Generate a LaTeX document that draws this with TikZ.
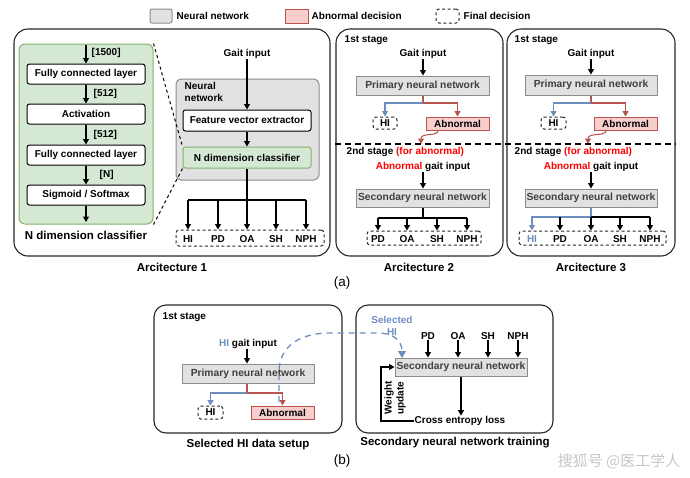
\documentclass[tikz,border=0pt]{standalone}
\usepackage{fontspec}
\setmainfont{Liberation Sans}
\newfontfamily\wmcjk{Noto Sans CJK SC}
\usetikzlibrary{arrows.meta}
\definecolor{nnfill}{HTML}{E1E1E1}
\definecolor{nnborder}{HTML}{8C8C8C}
\definecolor{gfill}{HTML}{D5E8D4}
\definecolor{gborder}{HTML}{82B366}
\definecolor{afill}{HTML}{F8CECC}
\definecolor{aborder}{HTML}{B85450}
\definecolor{hiblue}{HTML}{6C8EBF}
\definecolor{txtred}{HTML}{FF0000}
\newcommand\mycapfont{\fontsize{11.5}{13}\selectfont\bfseries}
\newcommand\mynnfont{\fontsize{10.3}{12}\selectfont\bfseries}
\begin{document}
\begin{tikzpicture}[x=1pt,y=-1pt,
  font=\fontsize{10}{12}\selectfont\bfseries,
  every node/.style={inner sep=0.5pt},
  wh/.style 2 args={minimum width=#1pt, minimum height=#2pt},
  arr/.style={-{Triangle[length=5.5pt,width=6pt]}, line width=1.05pt},
  plainline/.style={line width=1.05pt},
  redarr/.style={arr, draw=aborder},
  redline/.style={plainline, draw=aborder},
  bluearr/.style={arr, draw=hiblue},
  blueline/.style={plainline, draw=hiblue},
  nnbox/.style={draw=nnborder, fill=nnfill, line width=1pt, inner sep=0pt, text=black!75, font=\mynnfont},
  wbox/.style={draw=black, fill=white, rounded corners=2.5pt, line width=1pt, inner sep=0pt},
  gbox/.style={draw=gborder, fill=gfill, rounded corners=2.5pt, line width=1pt, inner sep=0pt},
  abox/.style={draw=aborder, fill=afill, line width=1pt, inner sep=0pt},
  fbox/.style={draw=black!85, dash pattern=on 3pt off 2.5pt, rounded corners=3pt, line width=1pt, inner sep=0pt},
  panel/.style={draw=black!85, rounded corners=14pt, line width=1.1pt, inner sep=0pt},
  zoomline/.style={draw=black, dash pattern=on 3pt off 3pt, line width=1pt},
  sepline/.style={draw=black, dash pattern=on 6pt off 4pt, line width=1.4pt},
  selline/.style={draw=hiblue, dash pattern=on 6pt off 5pt, line width=1.3pt, -{Triangle[length=7pt,width=8pt]}},
  captxt/.style={font=\mycapfont}
]
\useasboundingbox (0,0) rectangle (690,477);

% ---------------- legend
\node[nnbox, rounded corners=2pt, wh={22}{14}] (lg1) at (161,16) {};
\node[anchor=west] (lg1t) at (176,16) {Neural network};
\node[abox, wh={23}{14}] (lg2) at (296.5,16) {};
\node[anchor=west] (lg2t) at (311,16) {Abnormal decision};
\node[fbox, wh={23}{14}] (lg3) at (447.5,16) {};
\node[anchor=west] (lg3t) at (463,16) {Final decision};

% ---------------- Architecture 1
\node[panel, wh={316}{227}] (p1) at (172,142.5) {};
\node[gbox, rounded corners=6pt, wh={134}{180}] (gz) at (86,134) {};
\node[wbox, wh={118}{20}] (fc1) at (86,74) {Fully connected layer};
\node[wbox, wh={118}{20}] (act) at (86,114) {Activation};
\node[wbox, wh={118}{20}] (fc2) at (86,155) {Fully connected layer};
\node[wbox, wh={118}{20}] (sig) at (86,195) {Sigmoid / Softmax};
\coordinate (gin) at (86,45);
\coordinate (gout) at (86,222);
\draw[arr] (gin) -- (fc1);
\draw[arr] (fc1) -- (act);
\draw[arr] (act) -- (fc2);
\draw[arr] (fc2) -- (sig);
\draw[arr] (sig) -- (gout);
\node[anchor=west] (d1500) at (91,53) {[1500]};
\node[anchor=west] (d512a) at (93,94) {[512]};
\node[anchor=west] (d512b) at (93,135) {[512]};
\node[anchor=west] (dN) at (99,175) {[N]};
\node[captxt] (ndclbl) at (86,235) {N dimension classifier};

\node[nnbox, rounded corners=5pt, wh={143}{101}] (nn) at (247.5,129.5) {};
\node[anchor=north west, align=left] (nnl) at (184,82) {Neural\\network};
\node (gi1) at (247,54) {Gait input};
\node[wbox, wh={128}{21}] (fe) at (247,120.5) {Feature vector extractor};
\node[gbox, wh={128}{21}] (ndc) at (247,157.5) {N dimension classifier};
\draw[arr] (gi1) -- (gi1 |- fe.north);
\draw[arr] (fe) -- (ndc);
\draw[zoomline] (gz.north east) -- (ndc.north west);
\draw[zoomline] (gz.south east) -- (ndc.south west);

\coordinate (bus1) at (247,200);
\node[fbox, wh={148}{16}] (fin1) at (250,238) {};
\node (a1hi) at (188,239) {HI};
\node (a1pd) at (218,239) {PD};
\node (a1oa) at (247,239) {OA};
\node (a1sh) at (276,239) {SH};
\node (a1nph) at (306,239) {NPH};
\draw[plainline] (ndc) -- (bus1);
\draw[plainline] (a1hi |- bus1) -- (a1nph |- bus1);
\foreach \n in {a1hi,a1pd,a1oa,a1sh,a1nph} \draw[arr] (\n |- bus1) -- (\n |- fin1.north);
\node[captxt] (cap1) at (172,267) {Arcitecture 1};

% ---------------- Architecture 2
\node[panel, wh={167}{227}] (p2) at (419.5,142.5) {};
\node[anchor=west] (st21) at (344,40) {1st stage};
\node (gi2) at (423,54) {Gait input};
\node[nnbox, wh={133}{19}] (pr2) at (422.5,85.5) {Primary neural network};
\coordinate (sp2) at (423,103);
\node[fbox, wh={24}{12}] (hi2) at (385,123) {HI};
\node[abox, wh={63}{13}] (ab2) at (457.5,123.5) {Abnormal};
\draw[arr] (gi2) -- (gi2 |- pr2.north);
\draw[redline] (sp2 |- pr2.south) -- (sp2);
\draw[redarr] (sp2) -| (ab2.north);
\draw[bluearr] (sp2) -| (hi2.north);
\coordinate (c2) at (421,144);
\draw[redarr] (ab2.south -| 438,0) .. controls (438,137) and (421,132) .. (c2);
\node[anchor=west] (st22) at (346,152) {2nd stage \textcolor{txtred}{(for abnormal)}};
\node (agi2) at (423,167) {\textcolor{txtred}{Abnormal} gait input};
\node[nnbox, wh={133}{18}] (se2) at (422.5,198) {Secondary neural network};
\draw[arr] (agi2) -- (agi2 |- se2.north);
\coordinate (bus2) at (423,218);
\node[fbox, wh={114}{14}] (fin2) at (424,238) {};
\node (a2pd) at (378,239) {PD};
\node (a2oa) at (407,239) {OA};
\node (a2sh) at (437,239) {SH};
\node (a2nph) at (467,239) {NPH};
\draw[plainline] (bus2 |- se2.south) -- (bus2);
\draw[plainline] (a2pd |- bus2) -- (a2nph |- bus2);
\foreach \n in {a2pd,a2oa,a2sh,a2nph} \draw[arr] (\n |- bus2) -- (\n |- fin2.north);
\node[captxt] (cap2) at (419,267) {Arcitecture 2};

% ---------------- Architecture 3
\node[panel, wh={168}{227}] (p3) at (591,142.5) {};
\node[anchor=west] (st31) at (514,40) {1st stage};
\node (gi3) at (591,54) {Gait input};
\node[nnbox, wh={132}{20}] (pr3) at (591,85) {Primary neural network};
\coordinate (sp3) at (591,103);
\node[fbox, wh={25}{12}] (hi3) at (553.5,123) {HI};
\node[abox, wh={63}{13}] (ab3) at (625.5,123.5) {Abnormal};
\draw[arr] (gi3) -- (gi3 |- pr3.north);
\draw[redline] (sp3 |- pr3.south) -- (sp3);
\draw[redarr] (sp3) -| (ab3.north);
\draw[bluearr] (sp3) -| (hi3.north);
\coordinate (c3) at (588,144);
\draw[redarr] (ab3.south -| 606,0) .. controls (606,137) and (588,132) .. (c3);
\node[anchor=west] (st32) at (514,152) {2nd stage \textcolor{txtred}{(for abnormal)}};
\node (agi3) at (591,167) {\textcolor{txtred}{Abnormal} gait input};
\node[nnbox, wh={132}{18}] (se3) at (591,198) {Secondary neural network};
\draw[arr] (agi3) -- (agi3 |- se3.north);
\coordinate (bus3) at (591,217);
\node[fbox, wh={147}{14}] (fin3) at (592.5,238) {};
\node[text=hiblue] (a3hi) at (532,239) {HI};
\node (a3pd) at (560,239) {PD};
\node (a3oa) at (591,239) {OA};
\node (a3sh) at (620,239) {SH};
\node (a3nph) at (650,239) {NPH};
\draw[blueline] (bus3 |- se3.south) -- (bus3);
\draw[bluearr] (bus3) -| (a3hi |- fin3.north);
\draw[plainline] (bus3) -- (a3nph |- bus3);
\foreach \n in {a3pd,a3oa,a3sh,a3nph} \draw[arr] (\n |- bus3) -- (\n |- fin3.north);
\node[captxt] (cap3) at (591,267) {Arcitecture 3};

\draw[sepline] (p2.west |- 0,144) -- (p3.east |- 0,144);
\node[font=\fontsize{13.5}{15}\selectfont] (lbla) at (342,283) {(a)};

% ---------------- (b) left: Selected HI data setup
\node[panel, rounded corners=12pt, wh={188}{128}] (p4) at (248,369) {};
\node[anchor=west] (st4) at (162,317) {1st stage};
\node (hgi) at (248,344) {\textcolor{hiblue}{HI} gait input};
\node[nnbox, wh={132}{19}] (pr4) at (248,373.5) {Primary neural network};
\coordinate (sp4) at (247,393);
\node[fbox, wh={25}{13}] (hi4) at (210.5,412.5) {HI};
\node[abox, wh={63}{13}] (ab4) at (282.5,412.5) {Abnormal};
\draw[arr] (hgi.south -| sp4) -- (sp4 |- pr4.north);
\draw[redline] (sp4 |- pr4.south) -- (sp4);
\draw[redarr] (sp4) -| (ab4.north);
\draw[bluearr] (sp4) -| (hi4.north);
\node[captxt] (cap4) at (248,445) {Selected HI data setup};

% ---------------- (b) right: Secondary neural network training
\node[panel, rounded corners=12pt, wh={197}{128}] (p5) at (454.5,369) {};
\node (t5pd) at (428,336) {PD};
\node (t5oa) at (458,336) {OA};
\node (t5sh) at (488,336) {SH};
\node (t5nph) at (518,336) {NPH};
\node[nnbox, wh={132}{18}] (se5) at (461,367) {Secondary neural network};
\foreach \n in {t5pd,t5oa,t5sh,t5nph} \draw[arr] (\n) -- (\n |- se5.north);
\node (cel) at (460,421) {Cross entropy loss};
\draw[arr] (se5.south) -- (se5.south |- cel.north);
\coordinate (fb) at (381,421);
\draw[arr] (cel.west) -- (fb) |- (se5.west);
\node[rotate=90, align=center] (wu) at (395,398) {Weight\\update};
\node[text=hiblue, align=center] (sel) at (392,326) {Selected\\HI};
\node[captxt] (cap5) at (455,443) {Secondary neural network training};
\node[font=\fontsize{13.5}{15}\selectfont] (lblb) at (342,461) {(b)};

% selected HI dashed connector
\coordinate (selS) at (279,402);
\coordinate (selE) at (402,358);
\draw[selline] (selS) -- (279,372) .. controls (279,346) and (300,333) .. (330,333) -- (378,333) .. controls (395,333) and (402,342) .. (selE);

% watermark
\node[anchor=east, text=gray!45, font={\wmcjk\fontsize{15}{16}\selectfont}] (wm) at (681,461) {搜狐号 @医工学人};
\end{tikzpicture}
\end{document}
